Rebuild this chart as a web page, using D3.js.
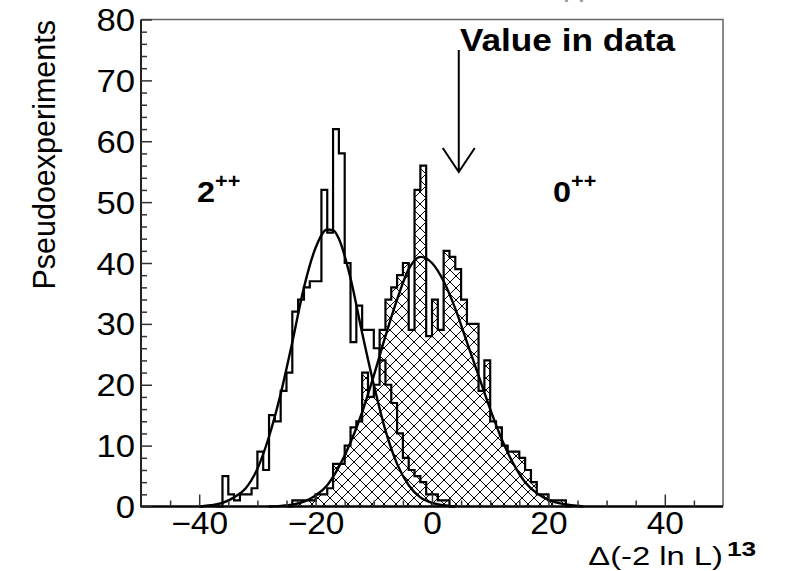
<!DOCTYPE html>
<html lang="en">
<head>
<meta charset="UTF-8">
<title>Pseudoexperiments</title>
<script src="https://d3js.org/d3.v7.min.js"></script>
<style>
body{margin:0;background:#fff}
svg{display:block}
text{font-family:"Liberation Sans",Arial,Helvetica,sans-serif;fill:#000}
.lbl{font-size:31px}
.bold{font-weight:bold}
</style>
</head>
<body>
<div id="chart"></div>
<script>
// bins are 1 unit wide, first bin starts at binStart
var binStart2 = -37;
var counts2pp = [0, 5, 2, 1, 2, 2, 3, 9, 6, 15, 14, 19, 22, 32, 34, 36, 37, 37, 52, 45, 62, 58, 40, 27, 33,
                 29, 29, 26, 24, 20, 17, 12, 8, 6, 5, 4, 2, 2, 1, 1, 0];
var binStart0 = -25;
var counts0pp = [0, 1, 1, 1, 1, 2, 2, 3, 7, 7, 10, 13, 14, 22, 18, 20, 29, 34, 36, 38, 40, 29, 52, 56, 28,
                 34, 29, 42, 41, 39, 34, 30, 30, 19, 24, 14, 13, 10, 9, 9, 8, 6, 4, 2, 2, 1, 1, 1, 0];

// fit curves
var fit2X = [-40, -38, -36, -34, -32, -30, -28, -26, -24, -22, -20, -18, -17, -16, -14, -12, -10, -8, -6, -4, -2, 0, 2, 4];
var fit2Y = [0, 0.2, 0.6, 1.5, 3.0, 6.2, 11.5, 18.5, 27, 36, 42.5, 45.5, 45.4, 44, 37.5, 28.5, 20, 12.5, 7, 3.5, 1.5, 0.6, 0.2, 0];
var fit0X = [-28, -26, -24, -22, -20, -18, -16, -14, -12, -10, -8, -6, -4, -2, 0, 2, 4, 6, 8, 10, 12, 14, 16, 18, 20, 22, 24, 26];
var fit0Y = [0, 0.1, 0.3, 0.8, 1.8, 3.5, 6.5, 10.5, 15.5, 21.5, 28, 34, 39, 41, 40, 37, 32.5, 27, 21.5, 16, 11, 7, 4, 2.2, 1.1, 0.5, 0.2, 0];

var xTicks = [-40, -20, 0, 20, 40];
var xMinor = [-45, -35, -30, -25, -15, -10, -5, 5, 10, 15, 25, 30, 35, 45];
var yTicks = [0, 10, 20, 30, 40, 50, 60, 70, 80];
var yMinor = [2, 4, 6, 8, 12, 14, 16, 18, 22, 24, 26, 28, 32, 34, 36, 38, 42, 44, 46, 48, 52, 54, 56, 58, 62, 64, 66, 68, 72, 74, 76, 78];
var dataValue = 4.6;

var W = 786, H = 571;
var svg = d3.select('#chart').append('svg').attr('width', W).attr('height', H);

var x = d3.scaleLinear().domain([-50, 50]).range([141, 723]);
var y = d3.scaleLinear().domain([0, 80]).range([506.5, 19.5]);

// cropped title at the very top
svg.append('text').attr('x', 560).attr('y', -4).style('font-size', '30px').style('fill', '#999')
  .text('\u03b3\u03b3');

// cross hatch
var pat = svg.append('defs').append('pattern')
  .attr('id', 'hatch').attr('patternUnits', 'userSpaceOnUse')
  .attr('width', 12).attr('height', 12);
pat.append('path').attr('d', 'M0,0L12,12M12,0L0,12M-3,3L3,-3M9,15L15,9M-3,9L3,15M9,-3L15,3')
  .attr('stroke', '#000').attr('stroke-width', 1);

function stepPoints(start, counts) {
  var pts = [[start, 0]];
  counts.forEach(function(c, i) {
    pts.push([start + i, c]);
    pts.push([start + i + 1, c]);
  });
  pts.push([start + counts.length, 0]);
  return pts;
}

var line = d3.line().x(function(d) { return x(d[0]); }).y(function(d) { return y(d[1]); });

var pts0 = stepPoints(binStart0, counts0pp);
var pts2 = stepPoints(binStart2, counts2pp);

svg.append('path').attr('d', line(pts0) + 'Z').attr('fill', 'url(#hatch)').attr('stroke', 'none');
svg.append('path').attr('d', line(pts0)).attr('fill', 'none').attr('stroke', '#000').attr('stroke-width', 2.2);
svg.append('path').attr('d', line(pts2)).attr('fill', 'none').attr('stroke', '#000').attr('stroke-width', 2.2);

var curve = d3.line().curve(d3.curveMonotoneX)
  .x(function(d) { return x(d[0]); }).y(function(d) { return y(d[1]); });
svg.append('path').attr('d', curve(d3.zip(fit2X, fit2Y))).attr('fill', 'none').attr('stroke', '#000').attr('stroke-width', 2.4);
svg.append('path').attr('d', curve(d3.zip(fit0X, fit0Y))).attr('fill', 'none').attr('stroke', '#000').attr('stroke-width', 2.4);

// frame
svg.append('path')
  .attr('d', 'M' + x(-50) + ',' + y(80) + 'H' + x(50) + 'V' + y(0))
  .attr('fill', 'none').attr('stroke', '#666').attr('stroke-width', 1.5);
svg.append('line').attr('x1', x(-50)).attr('x2', x(50)).attr('y1', y(0)).attr('y2', y(0))
  .attr('stroke', '#000').attr('stroke-width', 2.5);
svg.append('line').attr('x1', x(-50)).attr('x2', x(-50)).attr('y1', y(0) + 1).attr('y2', y(80))
  .attr('stroke', '#222').attr('stroke-width', 2);

// y ticks
var gy = svg.append('g').attr('transform', 'translate(' + x(-50) + ',0)');
gy.call(d3.axisRight(y).tickValues(yTicks).tickSize(11).tickFormat(''));
var gym = svg.append('g').attr('transform', 'translate(' + x(-50) + ',0)');
gym.call(d3.axisRight(y).tickValues(yMinor).tickSize(6).tickFormat(''));
var gyl = svg.append('g').attr('transform', 'translate(' + x(-50) + ',0)');
gyl.call(d3.axisLeft(y).tickValues(yTicks).tickSize(0).tickPadding(6));
[gy, gym, gyl].forEach(function(g) {
  g.select('.domain').remove();
  g.selectAll('line').attr('stroke', '#333').attr('stroke-width', 1.5);
});
gyl.selectAll('text').attr('class', 'lbl').attr('font-family', null).attr('font-size', null).attr('fill', '#000')
  .attr('x', null).attr('dy', null)
  .attr('transform', 'translate(-6,11) scale(1.12,1)');

// x ticks
var gx = svg.append('g').attr('transform', 'translate(0,' + y(0) + ')');
gx.call(d3.axisTop(x).tickValues(xTicks).tickSize(12).tickFormat(''));
var gxm = svg.append('g').attr('transform', 'translate(0,' + y(0) + ')');
gxm.call(d3.axisTop(x).tickValues(xMinor).tickSize(6).tickFormat(''));
var gxl = svg.append('g').attr('transform', 'translate(0,' + y(0) + ')');
gxl.call(d3.axisBottom(x).tickValues(xTicks).tickSize(0).tickPadding(6));
[gx, gxm, gxl].forEach(function(g) {
  g.select('.domain').remove();
  g.selectAll('line').attr('stroke', '#333').attr('stroke-width', 1.5);
});
gxl.selectAll('text').attr('class', 'lbl').attr('font-family', null).attr('font-size', null).attr('fill', '#000')
  .attr('y', null).attr('dy', null)
  .attr('transform', 'translate(0,27.5) scale(1.08,1)');

// axis titles
svg.append('text').attr('class', 'lbl')
  .attr('transform', 'translate(55,20) rotate(-90)')
  .attr('text-anchor', 'end').style('font-size', '30.5px')
  .text('Pseudoexperiments');
svg.append('text').attr('class', 'lbl')
  .attr('transform', 'translate(723,565) scale(1.26,1)').attr('text-anchor', 'end').style('font-size', '26px')
  .text('\u0394(-2 ln L)');
svg.append('text').attr('class', 'bold')
  .attr('transform', 'translate(727,556) scale(1.25,1)').style('font-size', '21px')
  .text('13');

// data value arrow
var ax = x(dataValue);
svg.append('path')
  .attr('d', 'M' + ax + ',50V172M' + (ax - 16) + ',148L' + ax + ',172L' + (ax + 16) + ',148')
  .attr('fill', 'none').attr('stroke', '#000').attr('stroke-width', 2);
svg.append('text').attr('class', 'bold')
  .attr('transform', 'translate(460,51) scale(1.1,1)').style('font-size', '32px')
  .text('Value in data');

// hypothesis labels
function hyp(xp, main) {
  var t = svg.append('text').attr('class', 'bold')
    .attr('transform', 'translate(' + xp + ',202) scale(1.08,1)').style('font-size', '30px');
  t.append('tspan').text(main);
  t.append('tspan').attr('dy', -14).style('font-size', '20px').text('++');
}
hyp(197, '2');
hyp(553, '0');
</script>
</body>
</html>
